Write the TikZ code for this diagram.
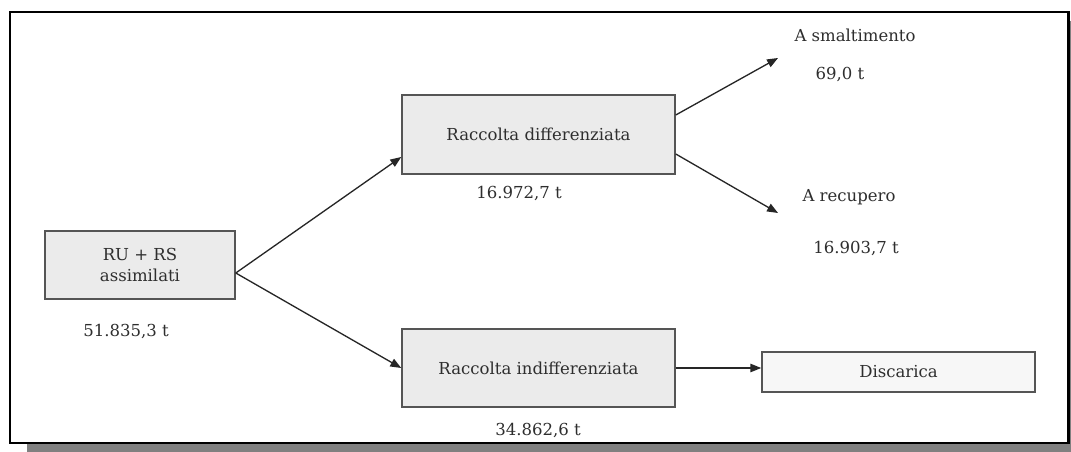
\documentclass[tikz,border=0pt]{standalone}
\usepackage{fontspec}
\setmainfont{DejaVu Serif}
\usetikzlibrary{calc,
arrows.meta,
positioning}
\definecolor{boxgray}{HTML}{EBEBEB}
\definecolor{boxline}{HTML}{555555}
\definecolor{txtgray}{HTML}{2E2E2E}
\definecolor{shadowgray}{HTML}{808080}

\begin{document}
\begin{tikzpicture} [x = 0.02cm, y = -0.02cm,
  >={Triangle[width = 4.8pt, length = 6.2pt]},
  font = \fontsize{9.4}{12}\selectfont,
  text = txtgray,
  main node/.style={rectangle, fill = boxgray, draw = boxline,
      line width = .9pt, align=center, inner sep = 0pt},
  flow/.style={->, line width = .75pt, draw = black!85},
  qty/.style={inner sep = 0pt, anchor = center}]

  \useasboundingbox (0,0) rectangle (1071,452);

  % frame with shadow
  \fill [shadowgray] (27,21) rectangle (1071,452);
  \draw [line width = 1.7pt, fill = white] (10,12) rectangle (1068,443);

  \node [main node,
    minimum width = 3.8cm,
    minimum height = 1.36cm
  ] (ru) at (140,265) {RU + RS\\assimilati};

  \node [main node,
    minimum width = 5.46cm,
    minimum height = 1.58cm
  ] (diff) at (538.5,134.5) {Raccolta differenziata};

  \node [main node,
    minimum width = 5.46cm,
    minimum height = 1.56cm
  ] (indiff) at (538.5,368) {Raccolta indifferenziata};

  \node [main node,
    fill = black!3,
    minimum width = 5.46cm,
    minimum height = .8cm
  ] (disc) at (898.5,372) {Discarica};

  \node [qty] (qru) at (126,331) {51.835,3 t};
  \node [qty] (qdiff) at (519,193) {16.972,7 t};
  \node [qty] (qindiff) at (538,430) {34.862,6 t};

  \coordinate (smalt) at (778,58);
  \coordinate (recup) at (778,213);

  \node [qty] (lsmalt) at (855,35) {A smaltimento};
  \node [qty] (qsmalt) at (840,75) {69,0 t};
  \node [qty] (lrecup) at (849,197) {A recupero};
  \node [qty] (qrecup) at (856,248) {16.903,7 t};

  \draw [flow] ([yshift=-.16cm]ru.east) -- ([yshift=-.45cm]diff.west);
  \draw [flow] ([yshift=-.16cm]ru.east) -- (indiff.west);

  \draw [flow] ([yshift=.39cm]diff.east) -- (smalt);
  \draw [flow] ([yshift=-.39cm]diff.east) -- (recup);

  \draw [flow] (indiff.east) -- (indiff.east -| disc.west);

\end{tikzpicture}
\end{document}
